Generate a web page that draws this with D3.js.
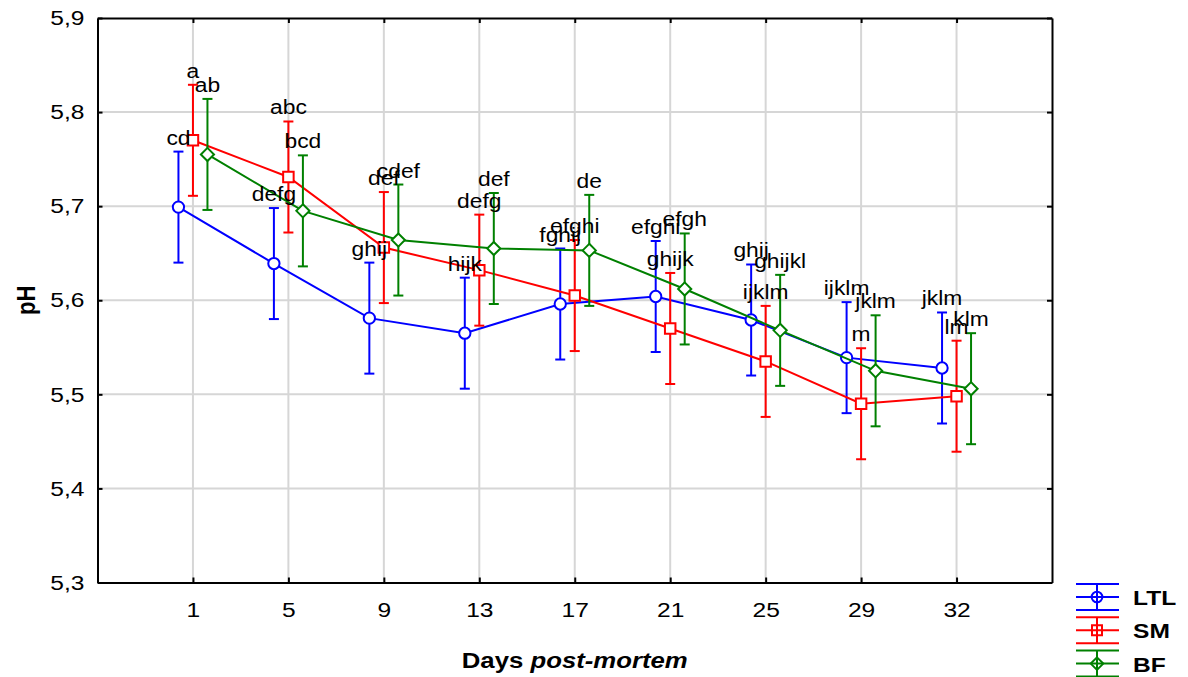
<!DOCTYPE html>
<html>
<head>
<meta charset="utf-8">
<script src="https://cdn.jsdelivr.net/npm/d3@7"></script>
<style>
  body { margin: 0; background: #fff; }
  svg { font-family: 'Liberation Sans', Arial, sans-serif; }
</style>
</head>
<body>
<svg id="chart" width="1188" height="677"></svg>
<script>
const days = ['1', '5', '9', '13', '17', '21', '25', '29', '32'];
const yTicks = [5.3, 5.4, 5.5, 5.6, 5.7, 5.8, 5.9];

const ltl = [5.699, 5.639, 5.581, 5.565, 5.596, 5.604, 5.579, 5.539, 5.528];
const sm = [5.770, 5.731, 5.656, 5.632, 5.605, 5.570, 5.535, 5.490, 5.498];
const bf = [5.755, 5.695, 5.664, 5.655, 5.653, 5.612, 5.568, 5.525, 5.506];
const errHalf = 0.059;

const ltlLetters = ['cd', 'defg', 'ghij', 'hijk', 'fghij', 'efghi', 'ghij', 'ijklm', 'jklm'];
const smLetters = ['a', 'abc', 'def', 'defg', 'efghi', 'ghijk', 'ijklm', 'm', 'lm'];
const bfLetters = ['ab', 'bcd', 'cdef', 'def', 'de', 'efgh', 'ghijkl', 'jklm', 'klm'];

const series = [
  { name: 'LTL', values: ltl, letters: ltlLetters, color: '#0000ff', symbol: 'circle', offset: -1 },
  { name: 'SM', values: sm, letters: smLetters, color: '#ff0000', symbol: 'square', offset: 0 },
  { name: 'BF', values: bf, letters: bfLetters, color: '#008000', symbol: 'diamond', offset: 1 }
];

const margin = { top: 18, right: 136, bottom: 94.5, left: 97.5 };
const W = 1188, H = 677;
const width = W - margin.left - margin.right;
const height = H - margin.top - margin.bottom;
const K = 1.17; // the original text is a bit wide

// widen a text horizontally around its own anchor
function stretch(sel, k) {
  sel.each(function() {
    const t = d3.select(this);
    const tx = +t.attr('x') || 0, ty = +t.attr('y') || 0;
    t.attr('x', 0).attr('y', 0).attr('transform', 'translate(' + tx + ',' + ty + ') scale(' + k + ',1)');
  });
}

const svg = d3.select('#chart');
const g = svg.append('g').attr('transform', 'translate(' + margin.left + ',' + margin.top + ')');

// categories sit at 1..9 in a 0..10 range
const x = d3.scaleLinear().domain([0, days.length + 1]).range([0, width]);
const y = d3.scaleLinear().domain([5.3, 5.9]).range([height, 0]);
const dx = 14.5;

// grid
g.append('g').selectAll('line').data(days).enter().append('line')
  .attr('x1', (d, i) => x(i + 1)).attr('x2', (d, i) => x(i + 1))
  .attr('y1', 0).attr('y2', height)
  .attr('stroke', '#d6d6d6').attr('stroke-width', 2);
g.append('g').selectAll('line').data(yTicks.slice(1, -1)).enter().append('line')
  .attr('x1', 0).attr('x2', width)
  .attr('y1', d => y(d)).attr('y2', d => y(d))
  .attr('stroke', '#d6d6d6').attr('stroke-width', 2);

// axes with inward ticks
const fmt = d => d3.format('.1f')(d).replace('.', ',');
const xAxis = d3.axisBottom(x).tickValues(days.map((d, i) => i + 1))
  .tickFormat((d, i) => days[i]).tickSizeInner(-5).tickSizeOuter(0).tickPadding(20);
const yAxis = d3.axisLeft(y).tickValues(yTicks).tickFormat(fmt)
  .tickSizeInner(-5).tickSizeOuter(0).tickPadding(13);

const gx = g.append('g').attr('transform', 'translate(0,' + height + ')').call(xAxis);
const gy = g.append('g').call(yAxis);
g.append('g').call(d3.axisTop(x).tickValues(days.map((d, i) => i + 1)).tickFormat('').tickSizeInner(-5).tickSizeOuter(0));
g.append('g').attr('transform', 'translate(' + width + ',0)')
  .call(d3.axisRight(y).tickValues(yTicks).tickFormat('').tickSizeInner(-5).tickSizeOuter(0));

g.selectAll('.domain').attr('stroke', '#000').attr('stroke-width', 2);
g.selectAll('.tick line').attr('stroke', '#000').attr('stroke-width', 2);
gx.selectAll('text').attr('font-size', 21).attr('fill', '#000').call(stretch, K);
gy.selectAll('text').attr('font-size', 21).attr('fill', '#000').call(stretch, K);

// series
const symbolPath = (type, size) => {
  if (type === 'circle') return d3.symbol(d3.symbolCircle, size)();
  if (type === 'square') return d3.symbol(d3.symbolSquare, size)();
  return d3.symbol(d3.symbolDiamond2, size)();
};

series.forEach(s => {
  const sg = g.append('g');
  const px = i => x(i + 1) + s.offset * dx;

  sg.append('path')
    .datum(s.values)
    .attr('fill', 'none').attr('stroke', s.color).attr('stroke-width', 2)
    .attr('d', d3.line().x((d, i) => px(i)).y(d => y(d)));

  const bars = sg.selectAll('g.bar').data(s.values).enter().append('g');
  bars.append('line')
    .attr('x1', (d, i) => px(i)).attr('x2', (d, i) => px(i))
    .attr('y1', d => y(d + errHalf)).attr('y2', d => y(d - errHalf))
    .attr('stroke', s.color).attr('stroke-width', 2);
  [1, -1].forEach(sign => {
    bars.append('line')
      .attr('x1', (d, i) => px(i) - 5).attr('x2', (d, i) => px(i) + 5)
      .attr('y1', d => y(d + sign * errHalf)).attr('y2', d => y(d + sign * errHalf))
      .attr('stroke', s.color).attr('stroke-width', 2);
  });
  bars.append('path')
    .attr('transform', (d, i) => 'translate(' + px(i) + ',' + y(d) + ')')
    .attr('d', symbolPath(s.symbol, s.symbol === 'circle' ? 100 : 110))
    .attr('fill', '#fff').attr('stroke', s.color).attr('stroke-width', 2);
});

// letters above the bars
series.forEach(s => {
  g.append('g').selectAll('text').data(s.values).enter().append('text')
    .attr('x', (d, i) => x(i + 1) + s.offset * dx)
    .attr('y', d => y(d + errHalf) - 7)
    .attr('text-anchor', 'middle')
    .attr('font-size', 19.5)
    .attr('fill', '#000')
    .text((d, i) => s.letters[i])
    .call(stretch, K);
});

// axis titles
svg.append('text')
  .attr('x', margin.left + x(5)).attr('y', 668)
  .attr('text-anchor', 'middle').attr('font-size', 22).attr('font-weight', 'bold')
  .call(t => {
    t.append('tspan').text('Days ');
    t.append('tspan').attr('font-style', 'italic').text('post-mortem');
  })
  .call(stretch, K);
svg.append('text')
  .attr('transform', 'translate(35,' + (margin.top + y(5.6)) + ') rotate(-90) scale(1,' + K + ')')
  .attr('text-anchor', 'middle').attr('font-size', 22).attr('font-weight', 'bold')
  .text('pH');

// legend
const leg = svg.append('g').attr('transform', 'translate(1076,597)');
series.forEach((s, i) => {
  const lg = leg.append('g').attr('transform', 'translate(0,' + (i * 33.3) + ')');
  [-13, 0, 13].forEach(o => {
    lg.append('line').attr('x1', 0).attr('x2', 43).attr('y1', o).attr('y2', o)
      .attr('stroke', s.color).attr('stroke-width', 2);
  });
  lg.append('line').attr('x1', 21).attr('x2', 21).attr('y1', -13).attr('y2', 13)
    .attr('stroke', s.color).attr('stroke-width', 2);
  lg.append('path').attr('transform', 'translate(21,0)')
    .attr('d', symbolPath(s.symbol, s.symbol === 'circle' ? 90 : 100))
    .attr('fill', 'none').attr('stroke', s.color).attr('stroke-width', 2);
  lg.append('text').attr('x', 57).attr('y', 8)
    .attr('font-size', 21).attr('font-weight', 'bold').attr('fill', '#000')
    .text(s.name)
    .call(stretch, K);
});
</script>
</body>
</html>
